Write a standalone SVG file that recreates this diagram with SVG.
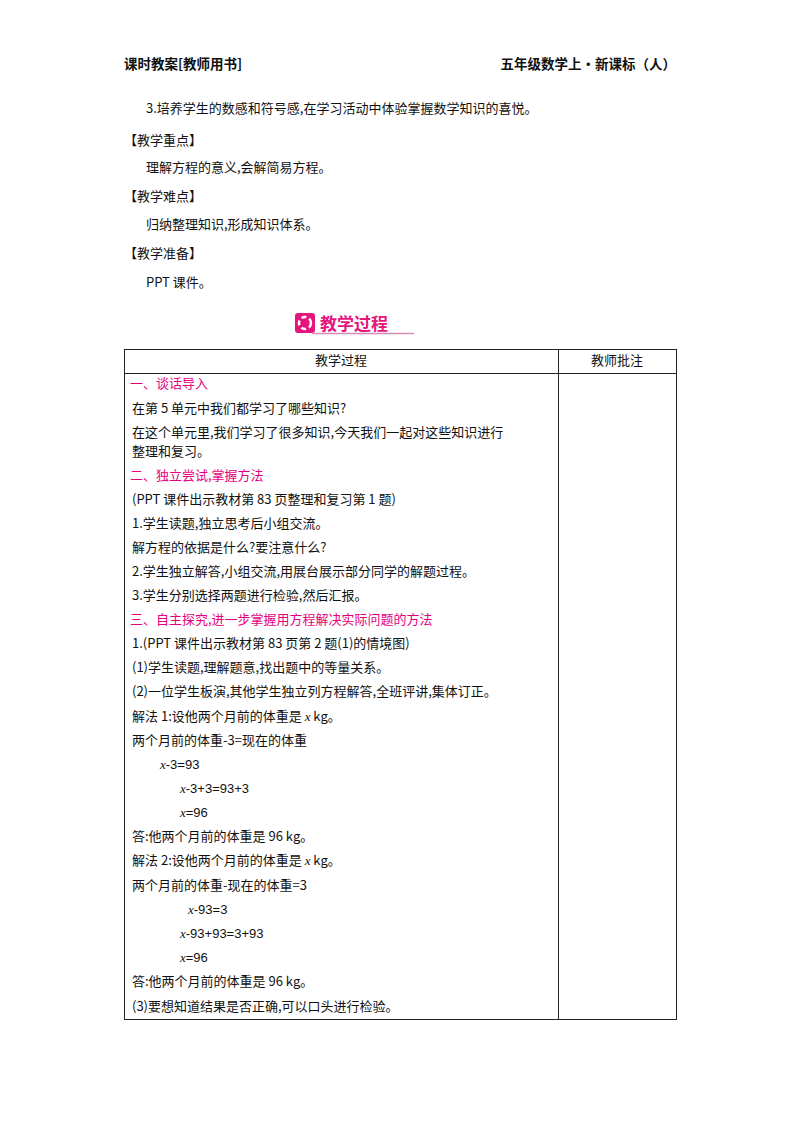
<svg xmlns="http://www.w3.org/2000/svg" width="800" height="1132" viewBox="0 0 800 1132">
<style>
text{font-family:"Noto Sans CJK SC","Liberation Serif",serif;font-size:13px;fill:#111}
.m{fill:#e6007e}
.h{font-size:13.5px;font-weight:bold}
.i{font-family:"Liberation Serif",serif;font-style:italic}
.n{font-family:"Liberation Sans",sans-serif}
</style>
<rect width="800" height="1132" fill="#fff"/>
<g id="header">
<text x="124" y="69" class="h">课时教案[教师用书]</text>
<text x="676" y="69" class="h" text-anchor="end">五年级数学上・新课标（人）</text>
</g>
<g id="intro">
<text x="146" y="113">3.培养学生的数感和符号感,在学习活动中体验掌握数学知识的喜悦。</text>
<text x="124" y="145">【教学重点】</text>
<text x="146" y="172">理解方程的意义,会解简易方程。</text>
<text x="124" y="201">【教学难点】</text>
<text x="146" y="229">归纳整理知识,形成知识体系。</text>
<text x="124" y="258">【教学准备】</text>
<text x="146" y="287">PPT 课件。</text>
</g>
<g id="title">
<rect x="295" y="313" width="20" height="20" rx="3" fill="#e4157d"/>
<circle cx="305" cy="323" r="6" fill="none" stroke="#fff" stroke-width="2.5" stroke-dasharray="5 3"/>
<text x="320" y="330" style="font-size:17px;font-weight:bold;fill:#e4157d">教学过程</text>
<line x1="312" y1="333.5" x2="414" y2="333.5" stroke="#d88ab5" stroke-width="1.5"/>
</g>
<g id="table" fill="none" stroke="#222" stroke-width="1">
<rect x="124.5" y="349.5" width="552" height="670"/>
<line x1="124.5" y1="373.5" x2="676.5" y2="373.5"/>
<line x1="558.5" y1="349.5" x2="558.5" y2="1019.5"/>
</g>
<g id="content">
<text x="341" y="365" text-anchor="middle">教学过程</text>
<text x="617" y="365" text-anchor="middle">教师批注</text>
<text x="130" y="388" class="m">一、谈话导入</text>
<text x="132" y="413">在第 5 单元中我们都学习了哪些知识?</text>
<text x="132" y="437">在这个单元里,我们学习了很多知识,今天我们一起对这些知识进行</text>
<text x="132" y="456">整理和复习。</text>
<text x="130" y="480" class="m">二、独立尝试,掌握方法</text>
<text x="132" y="504">(PPT 课件出示教材第 83 页整理和复习第 1 题)</text>
<text x="132" y="528">1.学生读题,独立思考后小组交流。</text>
<text x="132" y="552">解方程的依据是什么?要注意什么?</text>
<text x="132" y="576">2.学生独立解答,小组交流,用展台展示部分同学的解题过程。</text>
<text x="132" y="600">3.学生分别选择两题进行检验,然后汇报。</text>
<text x="130" y="624" class="m">三、自主探究,进一步掌握用方程解决实际问题的方法</text>
<text x="132" y="648">1.(PPT 课件出示教材第 83 页第 2 题(1)的情境图)</text>
<text x="132" y="672">(1)学生读题,理解题意,找出题中的等量关系。</text>
<text x="132" y="696">(2)一位学生板演,其他学生独立列方程解答,全班评讲,集体订正。</text>
<text x="132" y="721">解法 1:设他两个月前的体重是 <tspan class="i">x</tspan> kg。</text>
<text x="132" y="745">两个月前的体重-3=现在的体重</text>
<text x="160" y="769" class="n"><tspan class="i">x</tspan>-3=93</text>
<text x="180" y="793" class="n"><tspan class="i">x</tspan>-3+3=93+3</text>
<text x="180" y="817" class="n"><tspan class="i">x</tspan>=96</text>
<text x="132" y="841">答:他两个月前的体重是 96  kg。</text>
<text x="132" y="865">解法 2:设他两个月前的体重是 <tspan class="i">x</tspan> kg。</text>
<text x="132" y="890">两个月前的体重-现在的体重=3</text>
<text x="188" y="914" class="n"><tspan class="i">x</tspan>-93=3</text>
<text x="180" y="938" class="n"><tspan class="i">x</tspan>-93+93=3+93</text>
<text x="180" y="962" class="n"><tspan class="i">x</tspan>=96</text>
<text x="132" y="986">答:他两个月前的体重是 96  kg。</text>
<text x="132" y="1011">(3)要想知道结果是否正确,可以口头进行检验。</text>
</g>
</svg>
